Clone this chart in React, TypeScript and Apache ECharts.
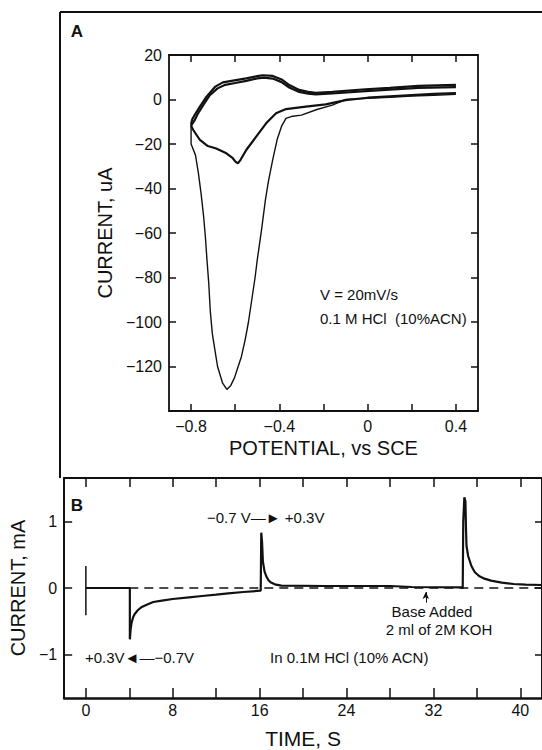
import React, { useEffect, useRef } from "react";
import * as echarts from "echarts";

// ---------- Panel A: cyclic voltammogram (potential V vs SCE, current uA) ----------
const cathodicScan1: [number, number][] = [
  [0.4, 2.3], [0.3, 1.9], [0.2, 1.6], [0.1, 1.0], [0.05, 0.8], [-0.05, 0.3], [-0.1, 0],
  [-0.16, -2.5], [-0.23, -4.5], [-0.3, -7], [-0.34, -7.5], [-0.37, -8.5], [-0.39, -12],
  [-0.41, -18], [-0.43, -27], [-0.45, -37], [-0.463, -45], [-0.48, -58], [-0.5, -72],
  [-0.51, -80], [-0.525, -90], [-0.54, -100], [-0.555, -108], [-0.572, -115.6], [-0.59, -121],
  [-0.603, -125], [-0.62, -128.5], [-0.638, -130.3], [-0.657, -127.5], [-0.68, -120],
  [-0.693, -112], [-0.704, -105], [-0.713, -95], [-0.72, -82.5], [-0.728, -72], [-0.735, -62],
  [-0.743, -52.7], [-0.755, -42], [-0.767, -33], [-0.78, -25], [-0.8, -20], [-0.8, -11],
];
const anodicScan1: [number, number][] = [
  [-0.8, -11], [-0.795, -9], [-0.784, -7], [-0.76, -3.2], [-0.73, 1.3], [-0.69, 5.8],
  [-0.656, 7.7], [-0.61, 8.5], [-0.55, 9.5], [-0.5, 10.5], [-0.476, 10.9], [-0.43, 10.6],
  [-0.39, 9], [-0.355, 6.5], [-0.31, 4.3], [-0.27, 3.4], [-0.235, 3], [-0.16, 3.4],
  [-0.01, 4.6], [0.1, 5.2], [0.23, 6.1], [0.4, 6.6],
];
const cathodicScan2: [number, number][] = [
  [0.4, 2.9], [0.3, 2.5], [0.2, 2.0], [0.1, 1.4], [0, 0.8], [-0.1, -0.3], [-0.19, -2.2],
  [-0.28, -3.2], [-0.37, -4.3], [-0.415, -6.2], [-0.46, -10.7], [-0.505, -16.7], [-0.55, -22.7],
  [-0.575, -27], [-0.588, -28.7], [-0.6, -27.8], [-0.611, -26.4], [-0.64, -24.2], [-0.686, -22],
  [-0.724, -20.9], [-0.76, -18.2], [-0.79, -13.7], [-0.8, -11.8],
];
const anodicScan2: [number, number][] = [
  [-0.8, -11.8], [-0.785, -9.5], [-0.77, -6.5], [-0.745, -2.5], [-0.715, 2], [-0.68, 5],
  [-0.645, 6.6], [-0.6, 7.4], [-0.55, 8.4], [-0.5, 9.5], [-0.47, 9.8], [-0.43, 9.4],
  [-0.39, 7.8], [-0.355, 5.4], [-0.31, 3.4], [-0.27, 2.6], [-0.235, 2.3], [-0.16, 2.7],
  [-0.01, 3.8], [0.1, 4.4], [0.23, 5.2], [0.4, 5.6],
];
const potentialTicks = [-0.8, -0.6, -0.4, -0.2, 0, 0.2, 0.4];
const potentialLabels = [-0.8, -0.4, 0, 0.4];
const currentUaLabels = [20, 0, -20, -40, -60, -80, -100, -120];

// ---------- Panel B: chronoamperometry (time s, current mA) ----------
const timeTrace: [number, number][] = [
  [0, 0], [4.05, 0], [4.05, -0.77], [4.12, -0.62], [4.2, -0.53], [4.35, -0.44], [4.5, -0.39],
  [4.8, -0.33], [5.1, -0.29], [5.6, -0.25], [6.2, -0.21], [7, -0.19], [8, -0.165],
  [9.5, -0.14], [10.7, -0.12], [12, -0.1], [13.1, -0.08], [14.5, -0.06], [16.1, -0.04],
  [16.15, 0.83], [16.22, 0.7], [16.3, 0.4], [16.45, 0.25], [16.6, 0.18], [16.8, 0.12],
  [17, 0.085], [17.4, 0.055], [18, 0.035], [22, 0.03], [28, 0.03], [30, 0.015], [34.6, 0.01],
  [34.7, -0.01], [34.75, 1.0], [34.85, 1.36], [34.95, 1.3], [35.0, 0.9], [35.05, 0.63],
  [35.2, 0.48], [35.5, 0.33], [35.8, 0.24], [36.2, 0.18], [36.7, 0.14], [37.3, 0.11],
  [38.3, 0.08], [39.4, 0.06], [40.5, 0.05], [42, 0.045],
];
const startMarker: [number, number][] = [[0, 0.33], [0, -0.41]];
const zeroLine: [number, number][] = [[4, 0], [42, 0]];
const baseAddedTime = 31.3;
const timeTicks = [0, 4, 8, 12, 16, 20, 24, 28, 32, 36, 40];
const timeLabels = [0, 8, 16, 24, 32, 40];
const currentMaTicks = [-1, 0, 1];

const INK = "#111";
const FONT = "Liberation Sans, Arial, sans-serif";
const fmt = (v: number) => (v < 0 ? "\u2212" + String(-v) : String(v));

export default function App() {
  const ref = useRef<HTMLDivElement>(null);
  useEffect(() => {
    if (!ref.current) return;
    const chart = echarts.init(ref.current, undefined, { renderer: "svg" });
    const mkLine = (w: number) => ({ show: true, onZero: false, lineStyle: { color: INK, width: w } });
    const tickStyle = { color: INK, width: 1.5 };
    const lineS = (data: [number, number][], xi: number, yi: number, w: number, extra: any = {}) => ({
      type: "line",
      data,
      xAxisIndex: xi,
      yAxisIndex: yi,
      showSymbol: false,
      symbol: "none",
      lineStyle: { color: INK, width: w },
      silent: true,
      ...extra,
    });
    chart.setOption({
      animation: false,
      backgroundColor: "#fff",
      textStyle: { fontFamily: FONT, color: INK },
      grid: [
        { left: 169, top: 55, width: 309, height: 356 },
        { left: 60, top: 478, width: 485, height: 222 },
      ],
      xAxis: [
        {
          gridIndex: 0, type: "value", min: -0.9, max: 0.5, position: "bottom",
          axisLine: mkLine(1.8), splitLine: { show: false },
          axisTick: { inside: true, length: 7, customValues: potentialTicks, lineStyle: tickStyle },
          axisLabel: { customValues: potentialLabels, formatter: fmt, fontSize: 16, color: INK, margin: 7, fontFamily: FONT },
          name: "POTENTIAL, vs SCE", nameLocation: "middle", nameGap: 27,
          nameTextStyle: { fontSize: 20, color: INK, fontFamily: FONT },
        },
        {
          gridIndex: 0, type: "value", min: -0.9, max: 0.5, position: "top",
          axisLine: mkLine(1.8), splitLine: { show: false },
          axisTick: { inside: true, length: 7, customValues: potentialTicks, lineStyle: tickStyle },
          axisLabel: { show: false },
        },
        {
          gridIndex: 1, type: "value", min: -2, max: 42, position: "bottom",
          axisLine: mkLine(2.5), splitLine: { show: false },
          axisTick: { inside: true, length: 10, customValues: timeTicks, lineStyle: tickStyle },
          axisLabel: { customValues: timeLabels, formatter: fmt, fontSize: 16, color: INK, margin: 4, fontFamily: FONT },
          name: "TIME, S", nameLocation: "middle", nameGap: 30,
          nameTextStyle: { fontSize: 21, color: INK, fontFamily: FONT },
        },
        {
          gridIndex: 1, type: "value", min: -2, max: 42, position: "top",
          axisLine: mkLine(2), splitLine: { show: false },
          axisTick: { inside: true, length: 9, customValues: timeTicks, lineStyle: tickStyle },
          axisLabel: { show: false },
        },
      ],
      yAxis: [
        {
          gridIndex: 0, type: "value", min: -140, max: 20, interval: 20, position: "left",
          axisLine: mkLine(1.8), splitLine: { show: false },
          axisTick: { inside: true, length: 7, lineStyle: tickStyle },
          axisLabel: { customValues: currentUaLabels, formatter: fmt, fontSize: 16, color: INK, margin: 7, fontFamily: FONT },
          name: "CURRENT, uA", nameLocation: "middle", nameGap: 48, nameRotate: 90,
          nameTextStyle: { fontSize: 20, color: INK, fontFamily: FONT },
        },
        {
          gridIndex: 0, type: "value", min: -140, max: 20, interval: 20, position: "right",
          axisLine: mkLine(1.8), splitLine: { show: false },
          axisTick: { inside: true, length: 7, lineStyle: tickStyle },
          axisLabel: { show: false },
        },
        {
          gridIndex: 1, type: "value", min: -1.65, max: 1.65, position: "left",
          axisLine: mkLine(2), splitLine: { show: false },
          axisTick: { inside: true, length: 8, customValues: currentMaTicks, lineStyle: tickStyle },
          axisLabel: { customValues: currentMaTicks, formatter: fmt, fontSize: 16, color: INK, margin: 7, fontFamily: FONT },
          name: "CURRENT, mA", nameLocation: "middle", nameGap: 28, nameRotate: 90,
          nameTextStyle: { fontSize: 20, color: INK, fontFamily: FONT },
        },
        {
          gridIndex: 1, type: "value", min: -1.65, max: 1.65, position: "right",
          axisLine: mkLine(2), splitLine: { show: false },
          axisTick: { inside: true, length: 7, customValues: currentMaTicks, lineStyle: tickStyle },
          axisLabel: { show: false },
        },
      ],
      series: [
        lineS(cathodicScan1, 0, 0, 1.4),
        lineS(anodicScan1, 0, 0, 2.2),
        lineS(cathodicScan2, 0, 0, 2.2),
        lineS(anodicScan2, 0, 0, 2.2),
        lineS(startMarker, 2, 2, 1.5),
        lineS(zeroLine, 2, 2, 1.5, {
          lineStyle: { color: INK, width: 1.5, type: [9, 6] },
          markLine: {
            silent: true,
            symbol: ["none", "arrow"],
            symbolSize: [5, 7],
            label: { show: false },
            lineStyle: { color: INK, width: 1, type: "solid" },
            data: [[{ coord: [baseAddedTime, -0.22] }, { coord: [baseAddedTime, -0.06] }]],
          },
        }),
        lineS(timeTrace, 2, 2, 2.2),
      ],
      graphic: [
        { type: "line", shape: { x1: 60, y1: 12, x2: 542, y2: 12 }, style: { stroke: INK, lineWidth: 2 }, silent: true },
        { type: "line", shape: { x1: 60, y1: 12, x2: 60, y2: 478 }, style: { stroke: INK, lineWidth: 2 }, silent: true },
        { type: "text", x: 77, y: 31, style: { text: "A", font: `bold 17px ${FONT}`, fill: INK, align: "center", verticalAlign: "middle" } },
        { type: "text", x: 77, y: 505, style: { text: "B", font: `bold 17px ${FONT}`, fill: INK, align: "center", verticalAlign: "middle" } },
        { type: "text", x: 320, y: 294, style: { text: "V = 20mV/s", font: `15px ${FONT}`, fill: INK, align: "left", verticalAlign: "middle" } },
        { type: "text", x: 320, y: 318, style: { text: "0.1 M HCl  (10%ACN)", font: `15px ${FONT}`, fill: INK, align: "left", verticalAlign: "middle" } },
        { type: "text", x: 207, y: 517, style: { text: "\u22120.7 V\u2014\u25BA +0.3V", font: `15px ${FONT}`, fill: INK, align: "left", verticalAlign: "middle" } },
        { type: "text", x: 85, y: 657, style: { text: "+0.3V\u25C4\u2014\u22120.7V", font: `15px ${FONT}`, fill: INK, align: "left", verticalAlign: "middle" } },
        { type: "text", x: 270, y: 657, style: { text: "In 0.1M HCl (10% ACN)", font: `15px ${FONT}`, fill: INK, align: "left", verticalAlign: "middle" } },
        { type: "text", x: 432, y: 611, style: { text: "Base Added", font: `15px ${FONT}`, fill: INK, align: "center", verticalAlign: "middle" } },
        { type: "text", x: 439, y: 629, style: { text: "2 ml of 2M KOH", font: `15px ${FONT}`, fill: INK, align: "center", verticalAlign: "middle" } },
      ],
    });
    return () => chart.dispose();
  }, []);
  return (
    <div
      ref={ref}
      style={{ position: "absolute", left: 0, top: 0, width: 542, height: 750, background: "#fff" }}
    />
  );
}
